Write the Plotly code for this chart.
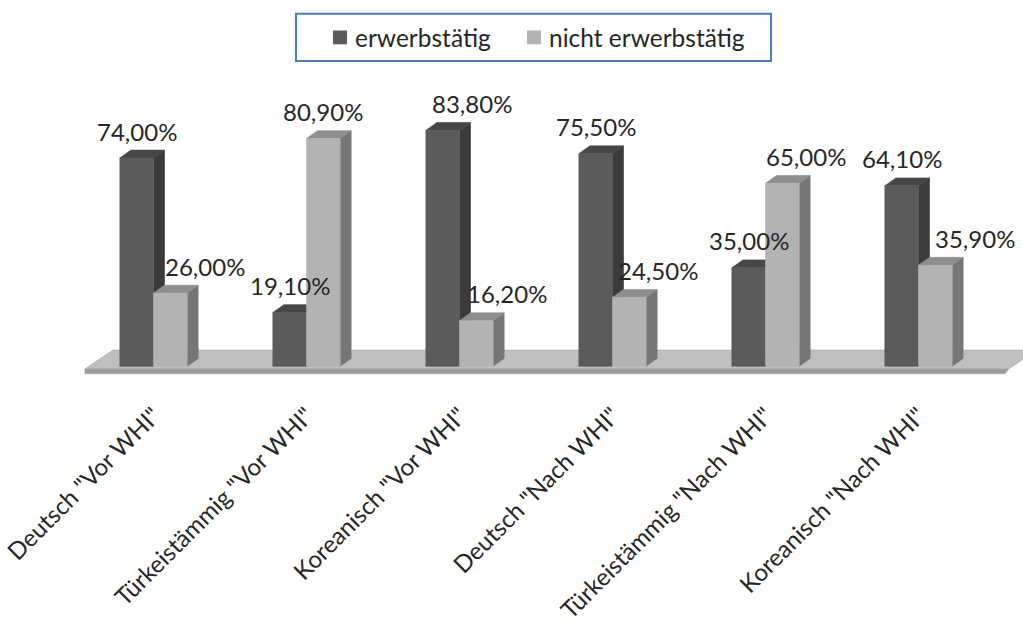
import plotly.graph_objects as go

# ---- data -------------------------------------------------------------
categories = [
    'Deutsch "Vor WHI"', 'Türkeistämmig "Vor WHI"', 'Koreanisch "Vor WHI"',
    'Deutsch "Nach WHI"', 'Türkeistämmig "Nach WHI"', 'Koreanisch "Nach WHI"',
]
erwerbstaetig = [74.0, 19.1, 83.8, 75.5, 35.0, 64.1]
nicht_erwerbstaetig = [26.0, 80.9, 16.2, 24.5, 65.0, 35.9]
series_names = ["erwerbstätig", "nicht erwerbstätig"]

# ---- layout geometry ----------------------------------------------------
W, H = 1023, 624
PLOT_TOP, PLOT_BOTTOM = 70, 395
X_RANGE = [-1.0033, 5.683]
Y_RANGE = [-8.77, 105.26]
PX_X = W / (X_RANGE[1] - X_RANGE[0])
PX_Y = (PLOT_BOTTOM - PLOT_TOP) / (Y_RANGE[1] - Y_RANGE[0])

BAR_W = 0.22            # width of one bar in category units
DX = 11 / PX_X          # 3D depth offset (right)
DY = 8 / PX_Y           # 3D depth offset (up)

# label horizontal nudges in px (dark series, light series)
label_shift_dark = [0, 0, 29, 0, 0, 0]
label_shift_light = [35, 0, 31, 29, 24, 40]

# colours: front, side, top
DARK = ("#5b5b5b", "#3b3b3b", "#474747")
LIGHT = ("#b3b3b3", "#767676", "#8e8e8e")
FLOOR_TOP, FLOOR_EDGE, FLOOR_LINE = "#bfbfbf", "#9c9c9c", "#a3a3a3"
TEXT = "#262626"
FONT = "Lato"


def fmt(v):
    return f"{v:.2f}".replace(".", ",") + "%"


def poly_trace(polys, color, line_color=None):
    xs, ys = [], []
    for px, py in polys:
        xs += list(px) + [px[0], None]
        ys += list(py) + [py[0], None]
    return go.Scatter(
        x=xs, y=ys, mode="lines", fill="toself", fillcolor=color,
        line=dict(color=line_color or color, width=0.6),
        hoverinfo="skip", showlegend=False,
    )


def bar_faces(lefts, values):
    front, side, top = [], [], []
    for x0, v in zip(lefts, values):
        x1 = x0 + BAR_W
        front.append(([x0, x1, x1, x0], [0, 0, v, v]))
        side.append(([x1, x1 + DX, x1 + DX, x1], [0, DY, v + DY, v]))
        top.append(([x0, x1, x1 + DX, x0 + DX], [v, v, v + DY, v + DY]))
    return front, side, top


fig = go.Figure()

# floor of the 3D plot
FL_X0, FL_X1 = -0.448, 5.59
FL_DEPTH_X, FL_DEPTH_Y = 28 / PX_X, 19 / PX_Y
FL_FRONT, FL_THICK = -0.9, 5 / PX_Y
fig.add_trace(poly_trace(
    [([FL_X0, FL_X1, FL_X1 - 0.025, FL_X0],
      [FL_FRONT, FL_FRONT, FL_FRONT - FL_THICK, FL_FRONT - FL_THICK])],
    FLOOR_EDGE))
fig.add_trace(poly_trace(
    [([FL_X0, FL_X1, FL_X1 + FL_DEPTH_X, FL_X0 + FL_DEPTH_X],
      [FL_FRONT, FL_FRONT, FL_FRONT + FL_DEPTH_Y, FL_FRONT + FL_DEPTH_Y])],
    FLOOR_TOP, FLOOR_LINE))

idx = list(range(len(categories)))
dark_left = [i - BAR_W for i in idx]
light_left = [i for i in idx]

for lefts, vals, cols in ((dark_left, erwerbstaetig, DARK), (light_left, nicht_erwerbstaetig, LIGHT)):
    front, side, top = bar_faces(lefts, vals)
    fig.add_trace(poly_trace(side, cols[1]))
    fig.add_trace(poly_trace(top, cols[2]))
    fig.add_trace(poly_trace(front, cols[0]))

# value labels
for lefts, vals, shifts in ((dark_left, erwerbstaetig, label_shift_dark),
                            (light_left, nicht_erwerbstaetig, label_shift_light)):
    for x0, v, s in zip(lefts, vals, shifts):
        fig.add_annotation(
            x=x0 + BAR_W / 2, y=v + DY, text=fmt(v), showarrow=False,
            xanchor="center", yanchor="middle", xshift=s, yshift=19,
            font=dict(family=FONT, size=24, color=TEXT),
        )


# legend box
def py2paper(py):
    return (PLOT_BOTTOM - py) / (PLOT_BOTTOM - PLOT_TOP)


fig.add_shape(type="rect", xref="paper", yref="paper",
              x0=296 / W, x1=771 / W, y0=py2paper(61), y1=py2paper(13),
              line=dict(color="#4a7ebb", width=2), fillcolor="white")
for sx, name, col in ((333, series_names[0], DARK[0]), (527, series_names[1], LIGHT[0])):
    fig.add_shape(type="rect", xref="paper", yref="paper",
                  x0=sx / W, x1=(sx + 14) / W, y0=py2paper(44), y1=py2paper(30),
                  line=dict(width=0), fillcolor=col)
    fig.add_annotation(xref="paper", yref="paper", x=(sx + 20) / W, y=py2paper(37),
                       text=name, showarrow=False, xanchor="left", yanchor="middle",
                       font=dict(family=FONT, size=24.5, color=TEXT))

fig.update_layout(
    width=W, height=H,
    margin=dict(l=0, r=0, t=PLOT_TOP, b=H - PLOT_BOTTOM, pad=0),
    paper_bgcolor="white", plot_bgcolor="white",
    showlegend=False,
    xaxis=dict(range=X_RANGE, tickmode="array", tickvals=idx, ticktext=categories,
               tickangle=-45, showgrid=False, zeroline=False, showline=False,
               ticks="", ticklabeloverflow="allow", ticklabelstandoff=5,
               tickfont=dict(family=FONT, size=24, color=TEXT)),
    yaxis=dict(range=Y_RANGE, visible=False),
)

fig.write_html("out.html")
